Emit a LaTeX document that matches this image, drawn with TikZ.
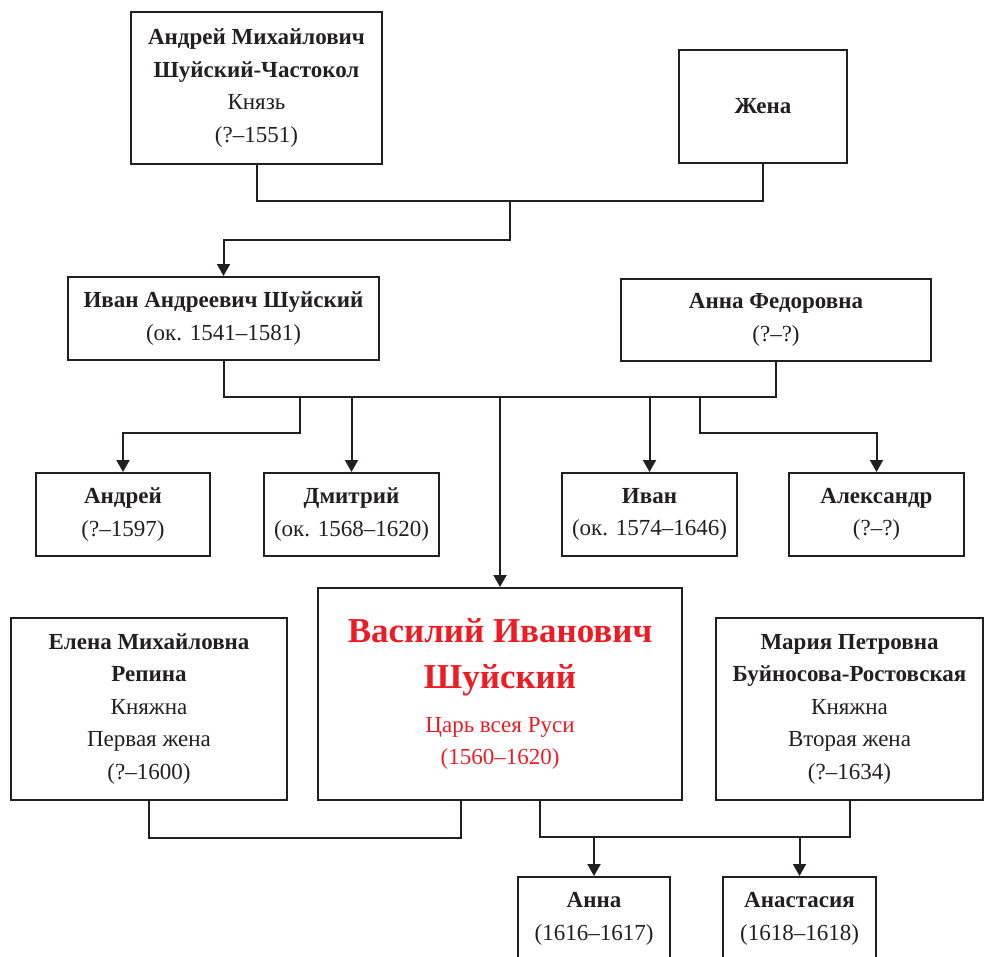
\documentclass[tikz,border=0pt]{standalone}
\usepackage{fontspec}
\setmainfont{Liberation Serif}
\usetikzlibrary{arrows.meta}
\definecolor{ink}{HTML}{231F20}
\definecolor{tsar}{HTML}{ED1C24}
\tikzset{
	person/.style={draw=ink, line width=2pt, inner sep=0pt, align=center, text=ink, font=\fontsize{23}{32.5}\selectfont},
	link/.style={draw=ink, line width=2pt},
	child/.style={link, -{Triangle[length=12pt,width=13pt]}}
}
\newcommand{\bigname}{\fontsize{35}{47}\selectfont\bfseries}

\begin{document}
\begin{tikzpicture}[x=1pt,y=-1pt]
		%%%%% START %%%%%
		\useasboundingbox (0,0) rectangle (984,956);
		\clip (0,0) rectangle (984,956);
		
		% grandparents
		\node[person, minimum width=251pt, minimum height=152pt] (andrey_m) at (256.5,88) {\textbf{Андрей Михайлович}\\\textbf{Шуйский-Частокол}\\Князь\\(?–1551)};
		\node[person, minimum width=168pt, minimum height=113pt] (zhena) at (763,106.5) {\textbf{Жена}};
		
		% parents
		\node[person, minimum width=311pt, minimum height=83pt] (ivan_a) at (223.5,318.5) {\textbf{Иван Андреевич Шуйский}\\(ок. 1541–1581)};
		\node[person, minimum width=310pt, minimum height=82pt] (anna_f) at (776,320) {\textbf{Анна Федоровна}\\(?–?)};
		
		% sons
		\node[person, minimum width=174pt, minimum height=83pt] (andrey) at (123,514.5) {\textbf{Андрей}\\(?–1597)};
		\node[person, minimum width=175pt, minimum height=83pt] (dmitry) at (351.5,514.5) {\textbf{Дмитрий}\\(ок. 1568–1620)};
		\node[person, minimum width=175pt, minimum height=83pt] (ivan) at (649.5,514.5) {\textbf{Иван}\\(ок. 1574–1646)};
		\node[person, minimum width=175pt, minimum height=83pt] (alexandr) at (876.5,514.5) {\textbf{Александр}\\(?–?)};
		
		% tsar and wives
		\node[person, minimum width=364pt, minimum height=212pt, text=tsar] (vasily) at (500,694) {\bigname Василий Иванович\\[14pt]\bigname Шуйский\\[11pt]Царь всея Руси\\(1560–1620)};
		\node[person, minimum width=276pt, minimum height=182pt] (elena) at (149,709) {\textbf{Елена Михайловна}\\\textbf{Репина}\\Княжна\\Первая жена\\(?–1600)};
		\node[person, minimum width=267pt, minimum height=182pt] (maria) at (849.5,709) {\textbf{Мария Петровна}\\\textbf{Буйносова-Ростовская}\\Княжна\\Вторая жена\\(?–1634)};
		
		% daughters
		\node[person, minimum width=152pt, minimum height=84pt] (anna) at (594,919) {\textbf{Анна}\\(1616–1617)};
		\node[person, minimum width=153pt, minimum height=84pt] (anastasia) at (799.5,919) {\textbf{Анастасия}\\(1618–1618)};
		
		\coordinate (top) at (510,201);
		\draw[link] (andrey_m.south) |- (top) -| (zhena.south);
		\draw[child] (top) -- ++(0,39) -| (ivan_a.north);
		
		\coordinate (mid) at (500,397);
		\coordinate (lft) at (300,397);
		\coordinate (rgt) at (700,397);
		\draw[link] (ivan_a.south) |- (mid) -| (anna_f.south);
		\draw[child] (lft) -- ++(0,36) -| (andrey.north);
		\draw[child] (dmitry.north |- mid) -- (dmitry.north);
		\draw[child] (mid) -- (vasily.north);
		\draw[child] (ivan.north |- mid) -- (ivan.north);
		\draw[child] (rgt) -- ++(0,36) -| (alexandr.north);
		
		\coordinate (vl) at (461,800);
		\coordinate (vr) at (540,800);
		\coordinate (bot) at (594,837);
		\draw[link] (elena.south) -- ++(0,37) -| (vl);
		\draw[link] (vr) -- ++(0,37) -| (maria.south);
		\draw[child] (anna.north |- bot) -- (anna.north);
		\draw[child] (anastasia.north |- bot) -- (anastasia.north);
		
		%%%%% END %%%%%
\end{tikzpicture}
\end{document}
